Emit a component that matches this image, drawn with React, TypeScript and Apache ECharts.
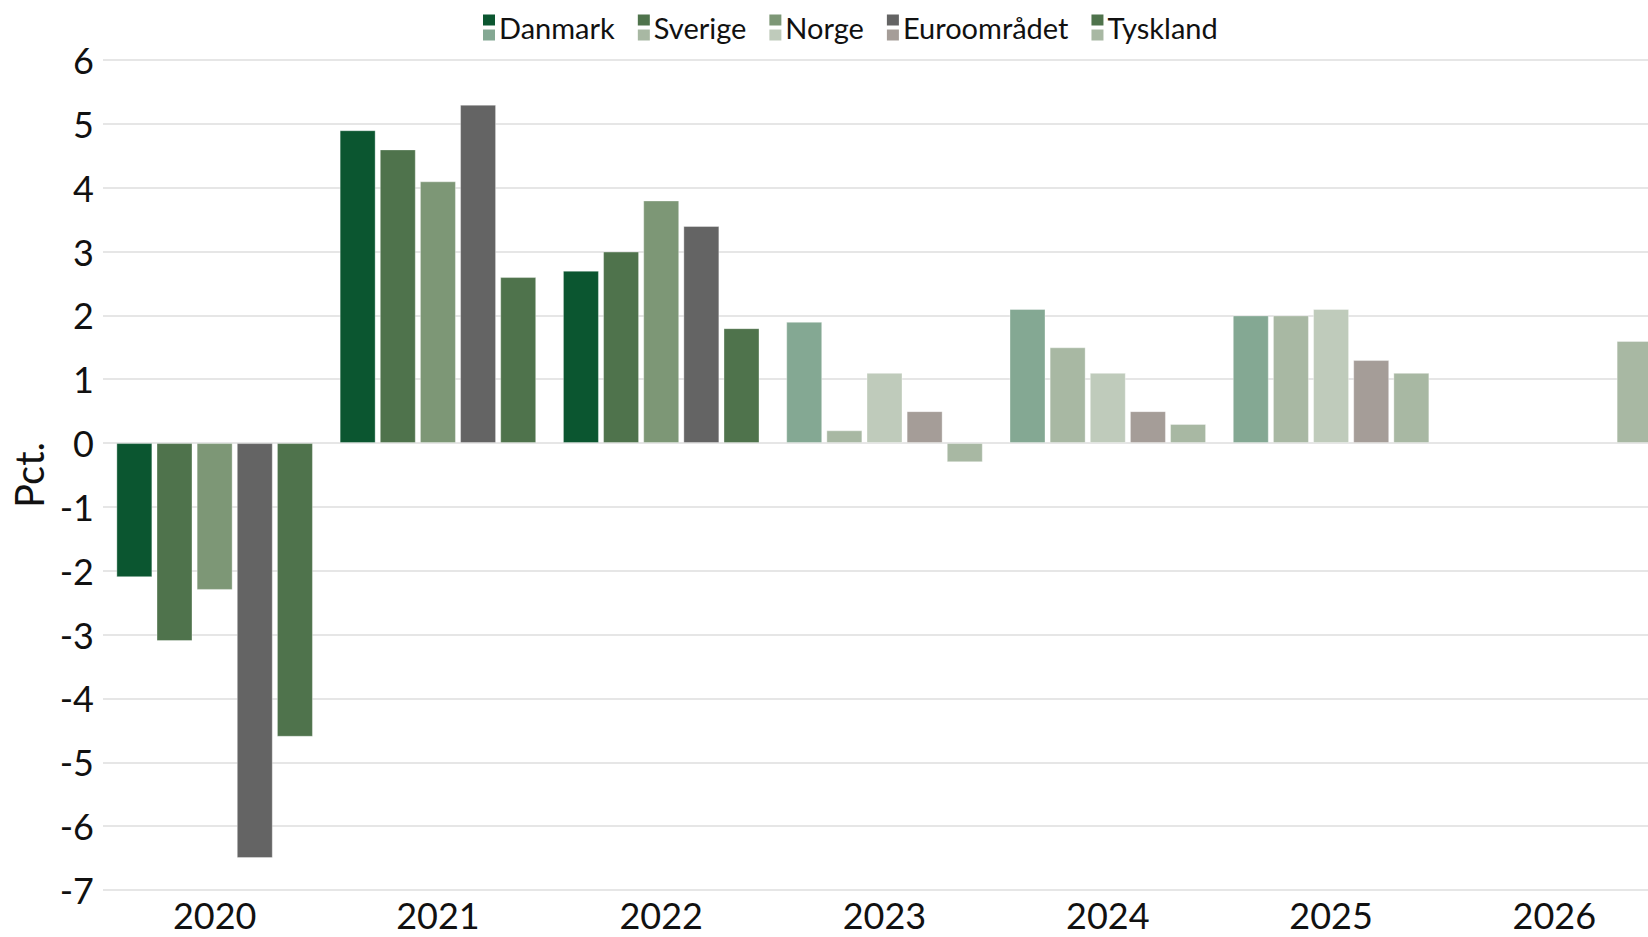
import React, { useEffect, useRef } from "react";
import * as echarts from "echarts";

const years = ["2020", "2021", "2022", "2023", "2024", "2025", "2026"];
const seriesNames = ["Danmark", "Sverige", "Norge", "Euroområdet", "Tyskland"];

const danmark = [-2.1, 4.9, 2.7, 1.9, 2.1, 2.0, null];
const sverige = [-3.1, 4.6, 3.0, 0.2, 1.5, 2.0, null];
const norge = [-2.3, 4.1, 3.8, 1.1, 1.1, 2.1, null];
const euroomraadet = [-6.5, 5.3, 3.4, 0.5, 0.5, 1.3, null];
const tyskland = [-4.6, 2.6, 1.8, -0.3, 0.3, 1.1, 1.6];

const seriesValues = [danmark, sverige, norge, euroomraadet, tyskland];

// first forecast year index (lighter colour from here)
const forecastStart = 3;

const darkColors = ["#0b5630", "#4f734c", "#7d9776", "#646464", "#4f734c"];
const lightColors = ["#84a893", "#a8b8a3", "#bfcbbb", "#a59d98", "#a8b8a3"];

const yTicks = { min: -7, max: 6, interval: 1 };

const FONT = "Lato";

export default function App() {
  const ref = useRef<HTMLDivElement>(null);

  useEffect(() => {
    if (!ref.current) return;
    const chart = echarts.init(ref.current, undefined, { renderer: "svg" });

    const series = seriesNames.map((name, si) => ({
      name,
      type: "bar",
      barWidth: 36,
      barGap: "11.5%",
      color: darkColors[si],
      itemStyle: {
        color: darkColors[si],
        borderColor: "rgba(255,255,255,0.35)",
        borderWidth: 1,
      },
      data: seriesValues[si].map((v, yi) =>
        v === null
          ? null
          : {
              value: v,
              itemStyle: {
                color: yi >= forecastStart ? lightColors[si] : darkColors[si],
              },
            }
      ),
    }));

    const legendCommon = {
      top: 13,
      left: 483,
      padding: 0,
      itemGap: 23,
      itemWidth: 12,
      itemHeight: 26,
      selectedMode: false,
    };

    chart.setOption({
      animation: false,
      textStyle: { fontFamily: FONT },
      legend: [
        {
          ...legendCommon,
          icon: "path://M0,0H12V11H0Z M0,26L0.01,26L0,26.01Z",
          itemStyle: { borderWidth: 0 },
          textStyle: { fontFamily: FONT, fontSize: 29, color: "#111", padding: [0, 0, 0, -1] },
          data: seriesNames.map((n, i) => ({ name: n, itemStyle: { color: darkColors[i], borderWidth: 0 } })),
        },
        {
          ...legendCommon,
          icon: "path://M0,0L0.01,0L0,0.01Z M0,15H12V26H0Z",
          itemStyle: { borderWidth: 0 },
          textStyle: { fontFamily: FONT, fontSize: 29, color: "rgba(0,0,0,0)", padding: [0, 0, 0, -1] },
          data: seriesNames.map((n, i) => ({ name: n, itemStyle: { color: lightColors[i], borderWidth: 0 } })),
        },
      ],
      grid: {
        left: 103,
        width: 1563,
        top: 60,
        bottom: 47,
        containLabel: false,
        outerBoundsMode: "none",
      },
      xAxis: {
        type: "category",
        data: years,
        axisLine: { show: false, onZero: false },
        axisTick: { show: false },
        axisLabel: {
          fontFamily: FONT,
          fontSize: 36,
          color: "#111",
          margin: 7,
        },
      },
      yAxis: {
        type: "value",
        min: yTicks.min,
        max: yTicks.max,
        interval: yTicks.interval,
        name: "Pct.",
        nameLocation: "middle",
        nameGap: 37,
        nameTextStyle: { fontFamily: FONT, fontSize: 40, color: "#111" },
        axisLine: { show: false },
        axisTick: { show: false },
        axisLabel: {
          fontFamily: FONT,
          fontSize: 36,
          color: "#111",
          margin: 9,
        },
        splitLine: { lineStyle: { color: "#dedede", width: 1.5 } },
      },
      series,
    });

    return () => chart.dispose();
  }, []);

  return (
    <div
      ref={ref}
      style={{ position: "fixed", left: 0, top: 0, width: 1648, height: 937, background: "#fff" }}
    />
  );
}
